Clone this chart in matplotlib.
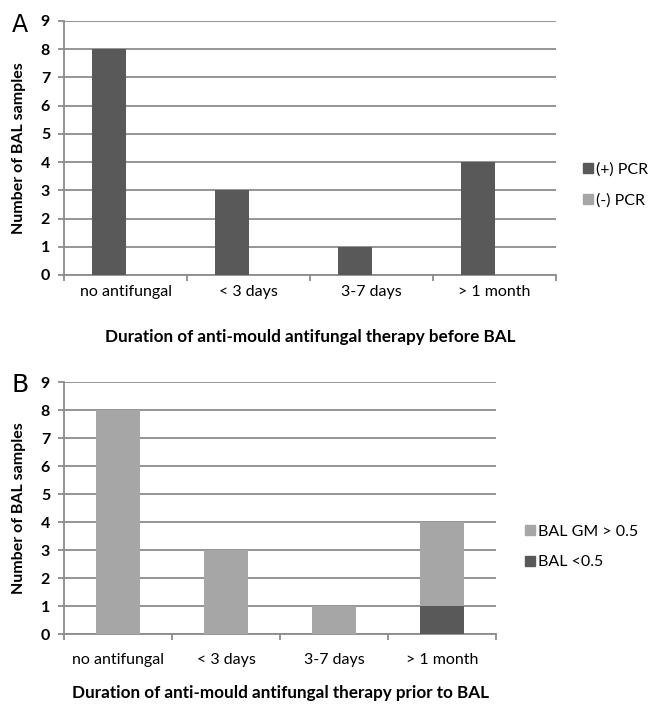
import matplotlib
matplotlib.use("Agg")
import matplotlib.pyplot as plt
from matplotlib.patches import Patch
import numpy as np

# ── Data ───────────────────────────────────────────────────────────────────────
categories = ["no antifungal", "< 3 days", "3-7 days", "> 1 month"]

pcr_pos = [8, 3, 1, 4]
pcr_neg = [0, 0, 0, 0]

gm_high = [8, 3, 1, 3]
gm_low = [0, 0, 0, 1]

title_a = "Duration of anti-mould antifungal therapy before BAL"
title_b = "Duration of anti-mould antifungal therapy prior to BAL"
ylabel = "Number of BAL samples"

# ── Style ──────────────────────────────────────────────────────────────────────
DARK = "#595959"
LIGHT = "#a6a6a6"
GRID = "#8c8c8c"
FONT = "Lato"
TICK_FS = 11.5
TITLE_FS = 12.3
LEGEND_FS = 11.5

plt.rcParams["font.family"] = [FONT, "DejaVu Sans"]
plt.rcParams["text.color"] = "black"

W, H = 651, 706
fig = plt.figure(figsize=(W / 100, H / 100), dpi=100)


def px_axes(left, top, right, bottom):
    return fig.add_axes([left / W, 1 - bottom / H, (right - left) / W, (bottom - top) / H])


def style_axes(ax, label_pad):
    x = np.arange(len(categories))
    ax.set_xlim(-0.5, len(categories) - 0.5)
    ax.set_ylim(0, 9)
    ax.set_yticks(range(10))
    ax.set_xticks(np.arange(-0.5, len(categories)), [])
    ax.set_xticks(x, categories, minor=True)
    ax.tick_params(axis="x", which="major", length=4, width=1.3, color=GRID, direction="out")
    ax.tick_params(axis="x", which="minor", length=0, pad=label_pad, labelsize=TICK_FS)
    ax.tick_params(axis="y", length=4, width=1.3, color=GRID, pad=6, labelsize=11.5)
    for lab in ax.get_yticklabels():
        lab.set_fontweight("bold")
    ax.yaxis.grid(True, color=GRID, linewidth=1.3)
    ax.set_axisbelow(True)
    for s in ("top", "right"):
        ax.spines[s].set_visible(False)
    for s in ("left", "bottom"):
        ax.spines[s].set_color(GRID)
        ax.spines[s].set_linewidth(1.3)


def add_legend(ax, handles, labels, left_px, center_px):
    ax.legend(
        handles, labels,
        loc="center left", bbox_to_anchor=(left_px / W, 1 - center_px / H), bbox_transform=fig.transFigure,
        frameon=False, handlelength=0.6, handleheight=0.6, handletextpad=0.2,
        labelspacing=1.05, fontsize=LEGEND_FS, borderaxespad=0, borderpad=0,
    )


# ── Panel A ───────────────────────────────────────────────────────────────────
ax = px_axes(64, 21, 556, 275)
x = np.arange(len(categories))
w = 0.276
ax.bar(x - w / 2, pcr_pos, w, color=DARK, zorder=3)
ax.bar(x + w / 2, pcr_neg, w, color=LIGHT, zorder=3)
style_axes(ax, label_pad=7)
fig.text(310 / W, 1 - 337 / H, title_a, ha="center", va="center", fontsize=TITLE_FS, fontweight="bold")
fig.text(19 / W, 1 - 148 / H, ylabel, ha="center", va="center", rotation=90, fontsize=11.5, fontweight="bold")
fig.text(12 / W, 1 - 32 / H, "A", ha="left", va="baseline", fontsize=17, family="DejaVu Sans")
add_legend(ax, [Patch(color=DARK), Patch(color=LIGHT)], ["(+) PCR", "(-) PCR"], 583, 185)

# ── Panel B ───────────────────────────────────────────────────────────────────
ax = px_axes(64, 382, 496, 634)
wb = 0.40
ax.bar(x, gm_low, wb, color=DARK, zorder=3)
ax.bar(x, gm_high, wb, bottom=gm_low, color=LIGHT, zorder=3)
style_axes(ax, label_pad=14)
fig.text(280 / W, 1 - 693 / H, title_b, ha="center", va="center", fontsize=TITLE_FS, fontweight="bold")
fig.text(19 / W, 1 - 508 / H, ylabel, ha="center", va="center", rotation=90, fontsize=11.5, fontweight="bold")
fig.text(12 / W, 1 - 392 / H, "B", ha="left", va="baseline", fontsize=18, family="DejaVu Sans")
add_legend(ax, [Patch(color=LIGHT), Patch(color=DARK)], ["BAL GM > 0.5", "BAL <0.5"], 525, 547)

fig.savefig("out.png", dpi=100, facecolor="white")
